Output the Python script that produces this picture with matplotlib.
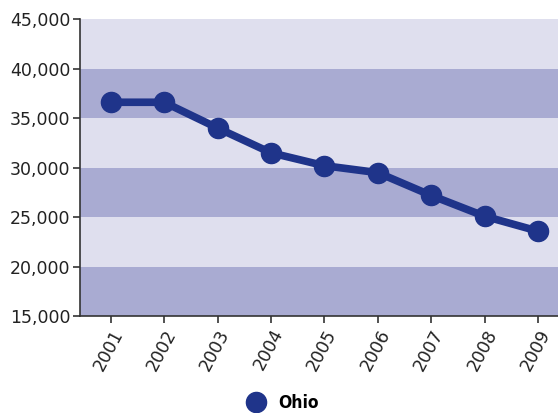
import matplotlib.pyplot as plt
from matplotlib.lines import Line2D

years = ["2001", "2002", "2003", "2004", "2005", "2006", "2007", "2008", "2009"]
ohio = [36600, 36600, 34000, 31500, 30200, 29500, 27200, 25100, 23600]
y_ticks = [15000, 20000, 25000, 30000, 35000, 40000, 45000]

line_color = "#1f348a"
band_dark = "#a9abd2"
band_light = "#dfdfee"

fig = plt.figure(figsize=(5.58, 4.13), dpi=100)
ax = fig.add_axes([0.1434, 0.234, 0.8566, 0.72])

# alternating horizontal bands behind the line
for i in range(len(y_ticks) - 1):
    ax.axhspan(y_ticks[i], y_ticks[i + 1], color=band_dark if i % 2 == 0 else band_light,
               lw=0, zorder=0)

x = range(len(years))
ax.plot(x, ohio, color=line_color, lw=5.5, marker="o", ms=14.5, zorder=3,
        solid_capstyle="round")

ax.set_xlim(-0.575, 8.375)
ax.set_ylim(15000, 45000)
ax.set_yticks(y_ticks)
ax.set_yticklabels([f"{v:,}" for v in y_ticks])
ax.set_xticks(list(x))
ax.set_xticklabels(years, rotation=62, ha="right", va="top", rotation_mode="anchor")

for s in ["top", "right"]:
    ax.spines[s].set_visible(False)
for s in ["left", "bottom"]:
    ax.spines[s].set_color("#333333")
    ax.spines[s].set_linewidth(1.2)
ax.tick_params(axis="both", length=5, width=1.2, color="#333333", labelsize=12.5,
               labelcolor="#222222", pad=2)

handle = Line2D([], [], color=line_color, marker="o", ls="none", ms=14.5)
fig.legend([handle], ["Ohio"], loc="center", bbox_to_anchor=(0.5, 0.025), frameon=False,
           handletextpad=0.3, prop={"weight": "bold", "size": 12.5, "family": "DejaVu Sans",
                                    "stretch": "condensed"})

fig.savefig("out.png", dpi=100)
